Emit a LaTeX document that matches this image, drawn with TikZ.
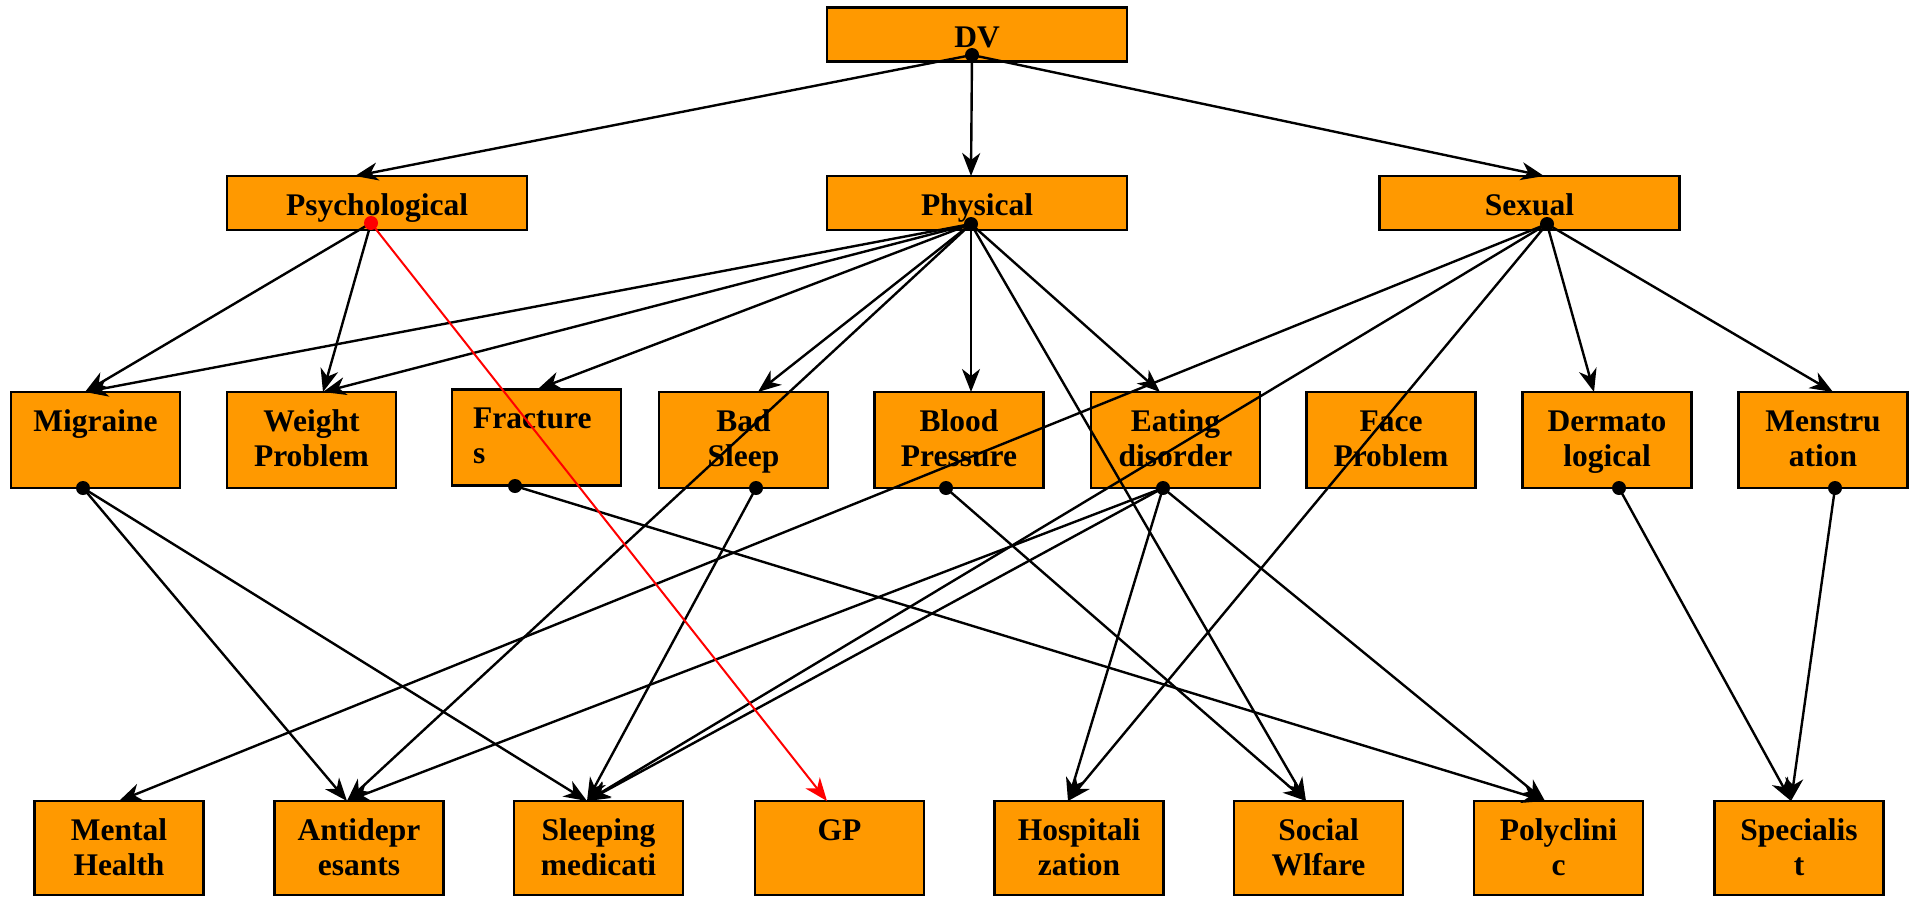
\documentclass[tikz,border=0pt]{standalone}
\usepackage{fontspec}
\setmainfont{Liberation Serif}
\usetikzlibrary{arrows.meta,calc}
\definecolor{boxorange}{RGB}{255,153,0}
\definecolor{edgered}{RGB}{255,0,0}
\begin{document}
\begin{tikzpicture}[x=1pt,y=-1pt,
  box/.style={draw=black, line width=2.5pt, fill=boxorange, inner sep=0pt, minimum width=169pt, minimum height=96pt},
  botbox/.style={box, minimum height=94pt},
  topbox/.style={box, minimum width=300pt, minimum height=54pt},
  lbl/.style={font=\fontsize{31.5}{35.5}\selectfont\bfseries, align=center, inner sep=0pt, anchor=north},
  edge/.style={line width=2.4pt, -{Stealth[length=23pt,width=18pt,inset=7pt]}},
  rededge/.style={edge, draw=edgered, line width=2pt},
  dotc/.style={fill=black},
]
\useasboundingbox (0,0) rectangle (1917,897);

% ---------- top row
\node[topbox] (dv)   at (977,34.5) {};
\node[topbox] (psy)  at (377,203) {};
\node[topbox] (phy)  at (977,203) {};
\node[topbox] (sex)  at (1529.5,203) {};
\node[lbl] (dvT)  at (977,22) {\strut DV};
\node[lbl] (psyT) at (377,190) {\strut Psychological};
\node[lbl] (phyT) at (977,190) {\strut Physical};
\node[lbl] (sexT) at (1529.5,190) {\strut Sexual};

% ---------- middle row
\node[box] (mig) at (95.5,440) {};
\node[box] (wei) at (311.5,440) {};
\node[box] (fra) at (536.5,437.5) {};
\node[box] (bad) at (743.5,440) {};
\node[box] (blo) at (959,440) {};
\node[box] (eat) at (1175.5,440) {};
\node[box] (fac) at (1391,440) {};
\node[box] (der) at (1607,440) {};
\node[box] (men) at (1823,440) {};
\node[lbl] (migT) at (95.5,406) {\strut Migraine};
\node[lbl] (weiT) at (311.5,406) {\strut Weight\\Problem};
\node[lbl, anchor=north west, align=left] (fraT) at (473,403) {\strut Fracture\\s};
\node[lbl] (badT) at (743.5,406) {\strut Bad\\Sleep};
\node[lbl] (bloT) at (959,406) {\strut Blood\\Pressure};
\node[lbl] (eatT) at (1175.5,406) {\strut Eating\\disorder};
\node[lbl] (facT) at (1391,406) {\strut Face\\Problem};
\node[lbl] (derT) at (1607,406) {\strut Dermato\\logical};
\node[lbl] (menT) at (1823,406) {\strut Menstru\\ation};

% ---------- bottom row
\node[botbox] (mhe) at (119,848) {};
\node[botbox] (ant) at (359,848) {};
\node[botbox] (sle) at (598.5,848) {};
\node[botbox] (gp)  at (839.5,848) {};
\node[botbox] (hos) at (1079,848) {};
\node[botbox] (soc) at (1318.5,848) {};
\node[botbox] (pol) at (1558.5,848) {};
\node[botbox] (spe) at (1799,848) {};
\node[lbl] (mheT) at (119,815) {\strut Mental\\Health};
\node[lbl] (antT) at (359,815) {\strut Antidepr\\esants};
\node[lbl] (sleT) at (598.5,815) {\strut Sleeping\\medicati};
\node[lbl] (gpT)  at (839.5,815) {\strut GP};
\node[lbl] (hosT) at (1079,815) {\strut Hospitali\\zation};
\node[lbl] (socT) at (1318.5,815) {\strut Social\\Wlfare};
\node[lbl] (polT) at (1558.5,815) {\strut Polyclini\\c};
\node[lbl] (speT) at (1799,815) {\strut Specialis\\t};

% ---------- connector ends
\coordinate (dvO)  at (972,55);
\coordinate (psyO) at (371,223);
\coordinate (phyO) at (971,224);
\coordinate (sexO) at (1547,224);
\coordinate (migO) at (83,488);
\coordinate (fraO) at (515,486);
\coordinate (badO) at (756,488);
\coordinate (bloO) at (946,488);
\coordinate (eatO) at (1163,488);
\coordinate (derO) at (1619,488);
\coordinate (menO) at (1835,488);

\coordinate (psyI) at (355,176);
\coordinate (phyI) at (971,176);
\coordinate (sexI) at (1544,176);
\coordinate (migI) at (85,392);
\coordinate (weiI) at (323,392);
\coordinate (fraI) at (538,389);
\coordinate (badI) at (758,392);
\coordinate (bloI) at (971,392);
\coordinate (eatI) at (1160,392);
\coordinate (derI) at (1594,392);
\coordinate (menI) at (1833,392);
\coordinate (mheI) at (119,801);
\coordinate (antI) at (347,801);
\coordinate (sleI) at (587,801);
\coordinate (gpI)  at (827,801);
\coordinate (hosI) at (1068,801);
\coordinate (socI) at (1306,801);
\coordinate (polI) at (1545,801);
\coordinate (speI) at (1791,801);

% ---------- connectors
\draw[edge] (dvO) -- (psyI);
\draw[edge] (dvO) -- (phyI);
\draw[edge] (dvO) -- (sexI);

\draw[edge] (psyO) -- (migI);
\draw[edge] (psyO) -- (weiI);

\draw[edge] (phyO) -- (migI);
\draw[edge] (phyO) -- (weiI);
\draw[edge] (phyO) -- (fraI);
\draw[edge] (phyO) -- (badI);
\draw[edge] (phyO) -- (bloI);
\draw[edge] (phyO) -- (eatI);
\draw[edge] (phyO) -- (antI);
\draw[edge] (phyO) -- (socI);

\draw[edge] (sexO) -- (mheI);
\draw[edge] (sexO) -- (sleI);
\draw[edge] (sexO) -- (hosI);
\draw[edge] (sexO) -- (derI);
\draw[edge] (sexO) -- (menI);

\draw[edge] (migO) -- (antI);
\draw[edge] (migO) -- (sleI);
\draw[edge] (fraO) -- (polI);
\draw[edge] (badO) -- (sleI);
\draw[edge] (bloO) -- (socI);
\draw[edge] (eatO) -- (antI);
\draw[edge] (eatO) -- (sleI);
\draw[edge] (eatO) -- (hosI);
\draw[edge] (eatO) -- (polI);
\draw[edge] (derO) -- (speI);
\draw[edge] (menO) -- (speI);

\draw[rededge] (psyO) -- (gpI);

% ---------- dots
\foreach \p in {dvO,phyO,sexO,migO,fraO,badO,bloO,eatO,derO,menO}
  \fill[dotc] (\p) circle (7pt);
\fill[edgered] (psyO) circle (7pt);
\end{tikzpicture}
\end{document}
